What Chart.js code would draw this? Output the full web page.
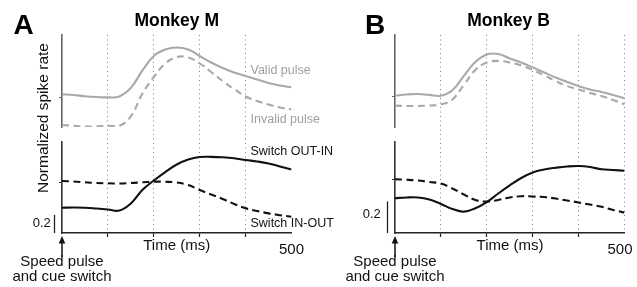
<!DOCTYPE html>
<html><head><meta charset="utf-8">
<script src="https://cdn.jsdelivr.net/npm/chart.js@4.4.1/dist/chart.umd.min.js"></script>
<style>
html,body{margin:0;padding:0;background:#fff;}
#wrap{position:relative;width:637px;height:287px;overflow:hidden;font-family:'Liberation Sans',Arial,Helvetica,sans-serif;}
canvas{position:absolute;left:0;top:0;}
.t{position:absolute;white-space:nowrap;line-height:1;}
</style></head><body>
<div id="wrap">
<canvas id="cA" width="637" height="287"></canvas>
<canvas id="cB" width="637" height="287"></canvas>
</div>
<script>
// ---- data (time in ms, normalized spike rate) ----
const timeMs = [0,25,50,75,100,125,150,175,200,225,250,275,300,325,350,375,400,425,450,475,500];
const xTicks = [0,100,200,300,400,500];

// Monkey M
const mValid   = [0.355,0.348,0.334,0.326,0.322,0.332,0.425,0.612,0.772,0.842,0.864,0.842,0.772,0.701,0.641,0.592,0.554,0.516,0.478,0.451,0.431];
const mInvalid = [0.022,0.013,0.005,0.008,0.014,0.014,0.115,0.362,0.543,0.690,0.761,0.755,0.692,0.598,0.500,0.413,0.332,0.283,0.245,0.212,0.190];
const mOutIn   = [0.278,0.280,0.278,0.269,0.258,0.247,0.325,0.473,0.577,0.670,0.753,0.808,0.835,0.837,0.832,0.821,0.802,0.786,0.764,0.731,0.698];
const mInOut   = [0.571,0.566,0.557,0.549,0.546,0.544,0.549,0.557,0.564,0.563,0.555,0.527,0.473,0.423,0.374,0.319,0.271,0.242,0.216,0.196,0.179];

// Monkey B
const bValid   = [0.198,0.206,0.209,0.203,0.198,0.232,0.323,0.411,0.459,0.462,0.434,0.408,0.377,0.345,0.313,0.285,0.259,0.237,0.222,0.203,0.182];
const bInvalid = [0.135,0.133,0.133,0.136,0.143,0.174,0.266,0.361,0.408,0.418,0.408,0.389,0.361,0.326,0.291,0.259,0.237,0.215,0.196,0.171,0.144];
const bOutIn   = [0.220,0.225,0.225,0.212,0.184,0.152,0.135,0.157,0.196,0.250,0.301,0.348,0.383,0.402,0.413,0.421,0.424,0.418,0.403,0.399,0.394];
const bInOut   = [0.340,0.337,0.332,0.323,0.313,0.282,0.244,0.209,0.199,0.209,0.225,0.233,0.231,0.228,0.218,0.206,0.193,0.180,0.166,0.146,0.129];

const scaleBarValue = 0.2;

// ---- styling ----
const GRAY = '#a9a9a9';
const BLACK = '#111';

function pts(arr){ return timeMs.map((t,i)=>({x:t,y:arr[i]})); }
function ds(arr, color, dashed, yId){
  return {data: pts(arr), xAxisID:'x', yAxisID:yId, borderColor: color, borderWidth: 2.1,
    borderDash: dashed ? [7,4.5] : [], pointRadius: 0, fill:false, tension: 0.4,
    cubicInterpolationMode: 'default', borderCapStyle:'butt'};
}
function yAxis(min, max, weight, stackWeight, tickVal, color){
  return {
    type:'linear', position:'left', stack:'rows', stackWeight, weight, min, max,
    afterFit: s => { s.width = 0; },
    afterBuildTicks: s => { s.ticks = tickVal == null ? [] : [{value: tickVal}]; },
    ticks:{display:false},
    grid:{display: tickVal != null, drawOnChartArea:false, drawTicks:true, tickLength:3, tickColor: color || 'rgba(0,0,0,0)', tickWidth:1.2},
    border:{display: color != null, color: color || 'rgba(0,0,0,0)', width:1.6}
  };
}

const marks = {
  id:'marks',
  afterDraw(chart){
    const {ctx} = chart; const x = chart.scales.x, yBot = chart.scales.yBot;
    const x0 = x.getPixelForValue(0), ya = x.top;
    ctx.save();
    ctx.fillStyle = BLACK; ctx.strokeStyle = BLACK;
    ctx.beginPath(); ctx.moveTo(x0, ya+3); ctx.lineTo(x0-3.3, ya+10.5); ctx.lineTo(x0+3.3, ya+10.5); ctx.closePath(); ctx.fill();
    ctx.lineWidth = 1.5; ctx.beginPath(); ctx.moveTo(x0, ya+9); ctx.lineTo(x0, ya+24); ctx.stroke();
    const sbx = x0 - 7.5;
    ctx.lineWidth = 1.3; ctx.strokeStyle = '#222';
    ctx.beginPath(); ctx.moveTo(sbx, yBot.getPixelForValue(yBot.min)); ctx.lineTo(sbx, yBot.getPixelForValue(yBot.min + scaleBarValue)); ctx.stroke();
    ctx.restore();
  }
};

function makePanel(id, padLeft, padRight, valid, invalid, outIn, inOut, yTopMax, yBotMax, tickTop, tickBot, showLastGrid){
  return new Chart(document.getElementById(id), {
    type:'line',
    data:{datasets:[
      ds(valid, GRAY, false, 'yTop'),
      ds(invalid, GRAY, true, 'yTop'),
      ds(outIn, BLACK, false, 'yBot'),
      ds(inOut, BLACK, true, 'yBot')
    ]},
    options:{
      responsive:false, animation:false, devicePixelRatio:1,
      layout:{padding:{left:padLeft, right:padRight, top:35, bottom:54}},
      plugins:{legend:{display:false}, tooltip:{enabled:false}, title:{display:false}},
      scales:{
        x:{type:'linear', position:'bottom', min:0, max:500,
          afterFit: s => { s.height = 0; },
          afterBuildTicks: s => { s.ticks = xTicks.map(v=>({value:v})); },
          ticks:{display:false},
          grid:{
            color: c => (c.tick && c.tick.value > 0 && (c.tick.value < 500 || showLastGrid)) ? '#808080' : 'rgba(0,0,0,0)',
            lineWidth:1,
            tickColor: c => (c.tick && c.tick.value > 0 && c.tick.value < 500) ? '#222' : 'rgba(0,0,0,0)',
            tickLength:4, tickWidth:1.2, tickBorderDash:[]
          },
          border:{display:true, color:'#222', width:1.4, dash:[1,3.5]}
        },
        yTop: yAxis(0, yTopMax, 3, 92, tickTop, '#666'),
        yGap: yAxis(0, 1, 2, 15, null, null),
        yBot: yAxis(0, yBotMax, 1, 91, tickBot, '#333')
      }
    },
    plugins:[marks]
  });
}

makePanel('cA', 62, 345.5, mValid, mInvalid, mOutIn, mInOut, 1.0, 1.0, 0.326, 0.56, false);
makePanel('cB', 395, 12.5, bValid, bInvalid, bOutIn, bInOut, 0.582, 0.576, 0.19, 0.34, true);

// ---- text ----
const wrap = document.getElementById('wrap');
function label(text, x, baseline, size, o){
  o = o || {};
  const d = document.createElement('div');
  d.className = 't';
  d.textContent = text;
  d.style.fontSize = size + 'px';
  d.style.height = size + 'px';
  d.style.fontWeight = o.bold ? 'bold' : 'normal';
  d.style.color = o.color || '#111';
  d.style.top = (baseline - 0.8465*size) + 'px';
  d.style.left = x + 'px';
  if (o.align === 'center') d.style.transform = 'translateX(-50%)';
  wrap.appendChild(d);
  return d;
}
label('A', 23.5, 35, 28, {bold:true, align:'center', color:'#000'});
label('B', 375, 35, 28, {bold:true, align:'center', color:'#000'});
label('Monkey M', 176.7, 27, 17.5, {bold:true, align:'center', color:'#000'});
label('Monkey B', 508.5, 27, 17.5, {bold:true, align:'center', color:'#000'});

const yl = document.createElement('div');
yl.className = 't'; yl.textContent = 'Normalized spike rate';
yl.style.fontSize = '15.5px'; yl.style.height='15.5px'; yl.style.color='#111';
yl.style.left = '43px'; yl.style.top = '117.5px';
yl.style.transform = 'translate(-50%,-50%) rotate(-90deg)';
wrap.appendChild(yl);

label('Valid pulse', 250.5, 75, 12.5, {color:'#a0a0a0'});
label('Invalid pulse', 250.5, 124, 12.5, {color:'#a0a0a0'});
label('Switch OUT-IN', 250.5, 155.5, 12.5);
label('Switch IN-OUT', 250.5, 227.5, 12.5);

[[176.7, 291.5, 62, 41.7, 227.5],[510, 620, 395, 371.7, 218.5]].forEach(p=>{
  label('Time (ms)', p[0], 250, 15, {align:'center'});
  label('500', p[1], 254, 15, {align:'center'});
  label('Speed pulse', p[2], 266, 15, {align:'center'});
  label('and cue switch', p[2], 281, 15, {align:'center'});
  label('0.2', p[3], p[4], 13, {align:'center'});
});
</script>
</body></html>
